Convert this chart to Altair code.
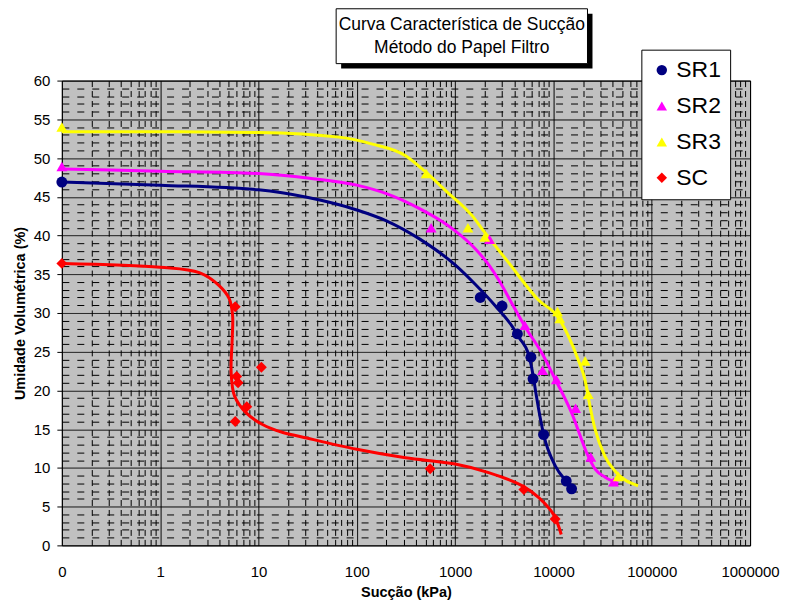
import altair as alt
import pandas as pd

# ---------------- data ----------------
series_names = ["SR1", "SR2", "SR3", "SC"]
series_colors = ["#000080", "#FF00FF", "#FFFF00", "#FF0000"]
series_shapes = ["circle", "triangle-up", "triangle-up", "diamond"]
# same colours for the fitted lines (listed in drawing order)
line_names = ["SC", "SR1", "SR2", "SR3"]
line_colors = ["#FF0000", "#000080", "#FF00FF", "#FFFF00"]

# measured points (suction 0 is plotted at the "0" position = 0.1 on the log axis)
sr1_x = [0.1, 1800, 3000, 4300, 5900, 6200, 7950, 13500, 15300]
sr1_y = [46.9, 32.0, 30.9, 27.3, 24.3, 21.5, 14.3, 8.3, 7.3]

sr2_x = [0.1, 570, 2240, 5130, 7750, 10700, 16800, 24000, 40800]
sr2_y = [48.9, 41.0, 39.5, 28.4, 22.6, 21.4, 17.7, 11.4, 8.2]

sr3_x = [0.1, 508, 1350, 2000, 11000, 11600, 21000, 22600, 45600]
sr3_y = [54.0, 48.0, 41.0, 39.8, 30.2, 29.3, 23.8, 19.5, 8.9]

sc_x = [0.1, 5.8, 10.7, 6.0, 6.2, 7.6, 5.8, 557, 5000, 10400]
sc_y = [36.4, 30.8, 23.0, 21.8, 21.0, 17.9, 16.0, 9.9, 7.2, 3.4]

# fitted curves
sr1_cx = [0.1, 1, 10, 32, 100, 200, 430, 1000, 1600, 2570, 3790, 4480, 5600, 6200, 6700, 7950, 10500, 13500, 16600]
sr1_cy = [46.9, 46.5, 45.9, 44.9, 43.3, 41.9, 39.6, 36.2, 33.7, 30.9, 28.3, 26.8, 24.6, 22.0, 19.3, 14.3, 10.2, 8.3, 7.0]

sr2_cx = [0.1, 1, 10, 33, 100, 200, 430, 736, 1000, 1600, 2200, 2800, 3790, 5100, 7800, 10000, 15200, 22600, 26700, 33600, 45600]
sr2_cy = [48.6, 48.3, 48.0, 47.4, 46.5, 45.4, 43.5, 41.8, 40.6, 38.3, 36.2, 34.2, 31.2, 28.3, 24.6, 21.9, 17.2, 11.5, 9.8, 8.8, 8.0]

sr3_cx = [0.1, 1, 10, 66, 144, 313, 500, 800, 1480, 2000, 3500, 7000, 11200, 14200, 17800, 20900, 23500, 26500, 33400, 42200, 72500]
sr3_cy = [53.4, 53.4, 53.3, 52.7, 51.8, 50.3, 48.2, 45.8, 42.6, 40.4, 36.5, 31.7, 29.4, 27.0, 24.0, 21.4, 18.0, 15.0, 11.5, 9.6, 7.7]

sc_cx = [0.1, 1, 2.5, 4.0, 5.06, 5.45, 5.4, 5.27, 5.7, 7.5, 11, 17.4, 27.7, 100, 313, 1000, 2190, 4730, 7050, 10000, 12000]
sc_cy = [36.4, 35.9, 35.2, 33.5, 31.8, 29.7, 26.6, 22.3, 19.3, 17.1, 15.6, 14.6, 14.0, 12.4, 11.3, 10.5, 9.4, 7.75, 6.2, 4.0, 1.4]

# axis ticks
x_major = [0.1, 1, 10, 100, 1000, 10000, 100000, 1000000]
x_minor_steps = [2, 3, 4, 5, 6, 7, 8, 9]
y_ticks = list(range(0, 61))

title_lines = ["Curva Característica de Sucção", "Método do Papel Filtro"]

# ---------------- tables ----------------
pts = []
for name, xs_, ys_ in [("SR1", sr1_x, sr1_y), ("SR2", sr2_x, sr2_y),
                       ("SR3", sr3_x, sr3_y), ("SC", sc_x, sc_y)]:
    for xv, yv in zip(xs_, ys_):
        pts.append({"series": name, "x": xv, "y": yv})
pts_df = pd.DataFrame(pts)


def curve_table(pairs):
    rows = []
    for name, xs_, ys_ in pairs:
        for i, (xv, yv) in enumerate(zip(xs_, ys_)):
            rows.append({"series": name, "x": xv, "y": yv, "idx": i})
    return pd.DataFrame(rows)


sr_curves = curve_table([("SR1", sr1_cx, sr1_cy), ("SR2", sr2_cx, sr2_cy), ("SR3", sr3_cx, sr3_cy)])
sc_curve = curve_table([("SC", sc_cx, sc_cy)])

x_values = []
for m in x_major[:-1]:
    x_values.append(m)
    x_values.extend([m * s for s in x_minor_steps])
x_values.append(x_major[-1])

major_test = "indexof(" + str(x_major) + ", datum.value) >= 0"

FONT = "Liberation Sans"

x_axis = alt.Axis(
    values=x_values,
    title="Sucção (kPa)",
    grid=True,
    gridColor="black",
    gridWidth=1,
    gridOpacity=1,
    gridDash={"condition": {"test": major_test, "value": [1, 0]}, "value": [6, 4]},
    labelExpr="datum.value < 0.15 ? '0' : (" + major_test + " ? format(datum.value, 'd') : '')",
    ticks=False,
    tickSize=0,
    domain=False,
    labelPadding=19,
    labelFlush=False,
    labelOverlap=False,
    labelBound=False,
    minExtent=34,
    maxExtent=34,
    titlePadding=6,
)

y_axis = alt.Axis(
    values=y_ticks,
    title="Umidade Volumétrica (%)",
    grid=True,
    gridColor="black",
    gridWidth=1,
    gridOpacity=1,
    gridDash={"condition": {"test": "datum.value % 5 === 0", "value": [1, 0]}, "value": [7, 8]},
    labelExpr="datum.value % 5 === 0 ? datum.label : ''",
    tickColor={"condition": {"test": "datum.value % 5 === 0", "value": "black"}, "value": "transparent"},
    tickSize=5,
    labelPadding=7,
    domain=False,
    labelOverlap=False,
    minExtent=27,
    maxExtent=27,
    titlePadding=7,
)

xs = alt.Scale(type="log", domain=[0.1, 1000000], nice=False)
ys = alt.Scale(domain=[0, 60], nice=False)
color_scale = alt.Scale(domain=series_names, range=series_colors)
shape_scale = alt.Scale(domain=series_names, range=series_shapes)
stroke_scale = alt.Scale(domain=line_names, range=line_colors)

legend = alt.Legend(
    orient="none", legendX=581, legendY=-31, title=None,
    strokeColor="black", fillColor="white", padding=9,
    labelFontSize=23, labelFont=FONT, labelColor="black",
    symbolSize=110, rowPadding=12, labelOffset=3,
    symbolStrokeWidth=0, cornerRadius=0,
)

sr_lines = alt.Chart(sr_curves).mark_line(strokeWidth=3, interpolate="monotone").encode(
    x=alt.X("x:Q", scale=xs, axis=x_axis),
    y=alt.Y("y:Q", scale=ys, axis=y_axis),
    stroke=alt.Stroke("series:N", scale=stroke_scale, legend=None),
    detail="series:N",
    order="idx:Q",
)

sc_line = alt.Chart(sc_curve).mark_line(strokeWidth=3, interpolate="catmull-rom").encode(
    x=alt.X("x:Q", scale=xs, axis=x_axis),
    y=alt.Y("y:Q", scale=ys, axis=y_axis),
    stroke=alt.Stroke("series:N", scale=stroke_scale, legend=None),
    order="idx:Q",
)

points = alt.Chart(pts_df).mark_point(filled=True, opacity=1, size=120).encode(
    x=alt.X("x:Q", scale=xs, axis=x_axis),
    y=alt.Y("y:Q", scale=ys, axis=y_axis),
    color=alt.Color("series:N", scale=color_scale, legend=legend),
    shape=alt.Shape("series:N", scale=shape_scale, legend=legend),
)

deco = pd.DataFrame({"k": [0]})
shadow = alt.Chart(deco).mark_rect(color="black").encode(
    x=alt.value(280), x2=alt.value(532), y=alt.value(-67), y2=alt.value(-12))
box = alt.Chart(deco).mark_rect(fill="white", stroke="black", strokeWidth=1).encode(
    x=alt.value(275), x2=alt.value(527), y=alt.value(-72), y2=alt.value(-17))
title_text = alt.Chart(deco).mark_text(
    font=FONT, fontSize=17.5, lineHeight=23, align="center", baseline="middle", color="black"
).encode(x=alt.value(401), y=alt.value(-56), text=alt.value(title_lines))

chart = alt.layer(shadow, box, title_text, sr_lines, sc_line, points).properties(
    width=690, height=466,
    autosize=alt.AutoSizeParams(type="none"),
    padding={"left": 54, "top": 72, "right": 30, "bottom": 58},
    background="white",
).configure_view(
    fill="#C0C0C0", stroke="black", strokeWidth=1
).configure_axis(
    labelFont=FONT, labelFontSize=15, labelColor="black",
    titleFont=FONT, titleFontSize=14.5, titleFontWeight="bold", titleColor="black",
)

chart.save("out.html", embed_options={"renderer": "svg", "actions": False})
